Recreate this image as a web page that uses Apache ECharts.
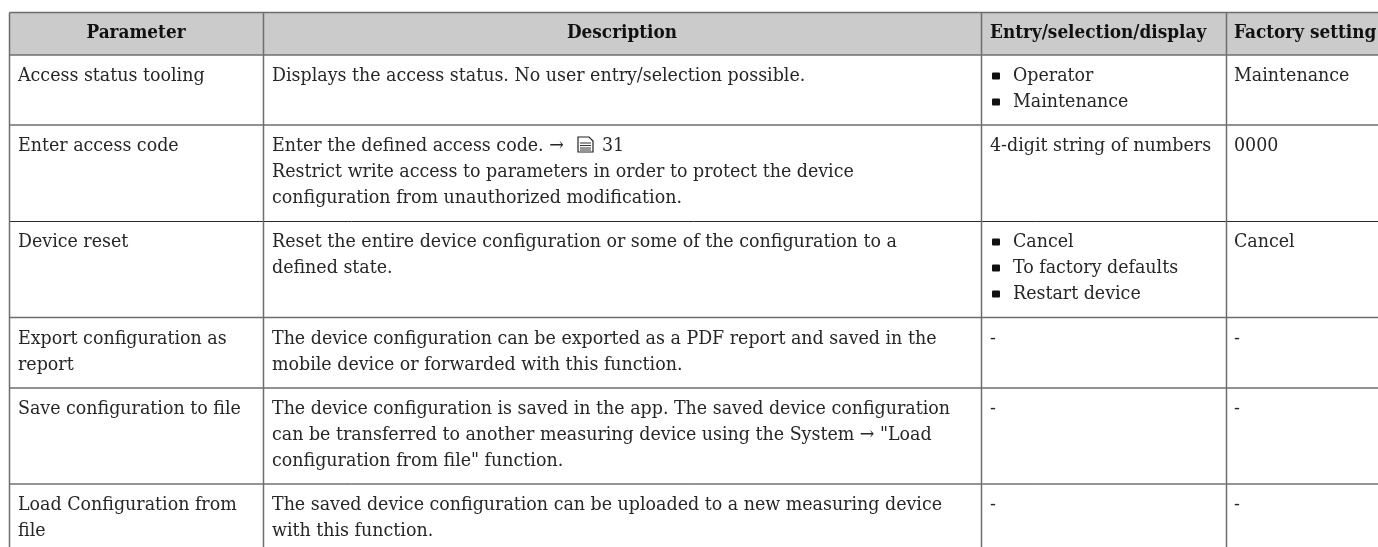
<!DOCTYPE html>
<html>
<head>
<meta charset="utf-8">
<title>Parameter table</title>
<script src="https://cdn.jsdelivr.net/npm/echarts@6/dist/echarts.min.js"></script>
<style>
    html, body { margin: 0; padding: 0; background: #fff; }
    #chart { width: 1378px; height: 547px; }
</style>
</head>
<body>
<div id="chart"></div>
<script>
const headers = ['Parameter', 'Description', 'Entry/selection/display', 'Factory setting'];
const parameters = [
    ['Access status tooling'],
    ['Enter access code'],
    ['Device reset'],
    ['Export configuration as', 'report'],
    ['Save configuration to file'],
    ['Load Configuration from', 'file']
];
const descriptions = [
    ['Displays the access status. No user entry/selection possible.'],
    ['Enter the defined access code. \u2192', 'Restrict write access to parameters in order to protect the device', 'configuration from unauthorized modification.'],
    ['Reset the entire device configuration or some of the configuration to a', 'defined state.'],
    ['The device configuration can be exported as a PDF report and saved in the', 'mobile device or forwarded with this function.'],
    ['The device configuration is saved in the app. The saved device configuration', 'can be transferred to another measuring device using the System \u2192 "Load', 'configuration from file" function.'],
    ['The saved device configuration can be uploaded to a new measuring device', 'with this function.']
];
const entries = [
    { bullets: ['Operator', 'Maintenance'] },
    { lines: ['4-digit string of numbers'] },
    { bullets: ['Cancel', 'To factory defaults', 'Restart device'] },
    { lines: ['-'] },
    { lines: ['-'] },
    { lines: ['-'] }
];
const factorySettings = ['Maintenance', '0000', 'Cancel', '-', '-', '-'];
const pageRefNumber = '31';

// table layout
const colLines = [9.5, 263.5, 981.5, 1226.5];
const rowLines = [12.5, 55, 125, 221.5, 317.5, 388, 484];
const darkRows = [221.5, 484];
const firstLineY = [76, 146, 242, 339, 409, 505];
const lineStep = 26;
const textFont = '"DejaVu Serif Condensed", "Liberation Serif", serif';
const textSize = 19.4;
const headerSize = 18.8;
const textColor = '#262626';
const lineColor = '#6e6e6e';

const elements = [];

function addText(x, y, str, opts) {
    opts = opts || {};
    elements.push({
        type: 'text',
        x: x,
        y: y,
        style: {
            text: str,
            fill: opts.bold ? '#111' : textColor,
            fontFamily: textFont,
            fontSize: opts.bold ? headerSize : textSize,
            fontWeight: opts.bold ? 'bold' : 'normal',
            align: opts.align || 'left',
            verticalAlign: 'middle'
        }
    });
}

function addLine(x1, y1, x2, y2, color, width) {
    elements.push({
        type: 'line',
        shape: { x1: x1, y1: y1, x2: x2, y2: y2 },
        style: { stroke: color, lineWidth: width }
    });
}

// header band
elements.push({
    type: 'rect',
    shape: { x: colLines[0], y: rowLines[0], width: 1378 - colLines[0], height: rowLines[1] - rowLines[0] },
    style: { fill: '#cbcbcb' }
});

// grid lines
rowLines.forEach(y => {
    let dark = darkRows.indexOf(y) !== -1;
    addLine(colLines[0], y, 1378, y, dark ? '#2b2b2b' : lineColor, dark ? 1 : 1.5);
});
colLines.forEach(x => {
    addLine(x, rowLines[0], x, 547, lineColor, 1.5);
});

// header text
addText(136, 33, headers[0], { bold: true, align: 'center' });
addText(622, 33, headers[1], { bold: true, align: 'center' });
addText(990, 33, headers[2], { bold: true });
addText(1234, 33, headers[3], { bold: true });

// body text
firstLineY.forEach((y0, r) => {
    parameters[r].forEach((s, i) => addText(18, y0 + i * lineStep, s));
    descriptions[r].forEach((s, i) => addText(272, y0 + i * lineStep, s));
    if (entries[r].bullets) {
        entries[r].bullets.forEach((s, i) => {
            let y = y0 + i * lineStep;
            elements.push({
                type: 'rect',
                shape: { x: 992, y: y - 3.5, width: 8, height: 7, r: 1 },
                style: { fill: '#111' }
            });
            addText(1013, y, s);
        });
    } else {
        entries[r].lines.forEach((s, i) => addText(990, y0 + i * lineStep, s));
    }
    addText(1234, y0, factorySettings[r]);
});

// page reference icon in the access code row
const iconX = 578, iconY = 137;
elements.push({
    type: 'polygon',
    shape: { points: [[iconX, iconY], [iconX + 11, iconY], [iconX + 15, iconY + 4], [iconX + 15, iconY + 15], [iconX, iconY + 15]] },
    style: { fill: '#fff', stroke: '#222', lineWidth: 1.2 }
});
[6, 8.5, 11, 13].forEach(dy => addLine(iconX + 2, iconY + dy, iconX + 13, iconY + dy, '#333', 1));
addText(602, firstLineY[1], pageRefNumber);

const chart = echarts.init(document.getElementById('chart'));
chart.setOption({
    animation: false,
    backgroundColor: '#fff',
    graphic: { elements: elements }
});
</script>
</body>
</html>
